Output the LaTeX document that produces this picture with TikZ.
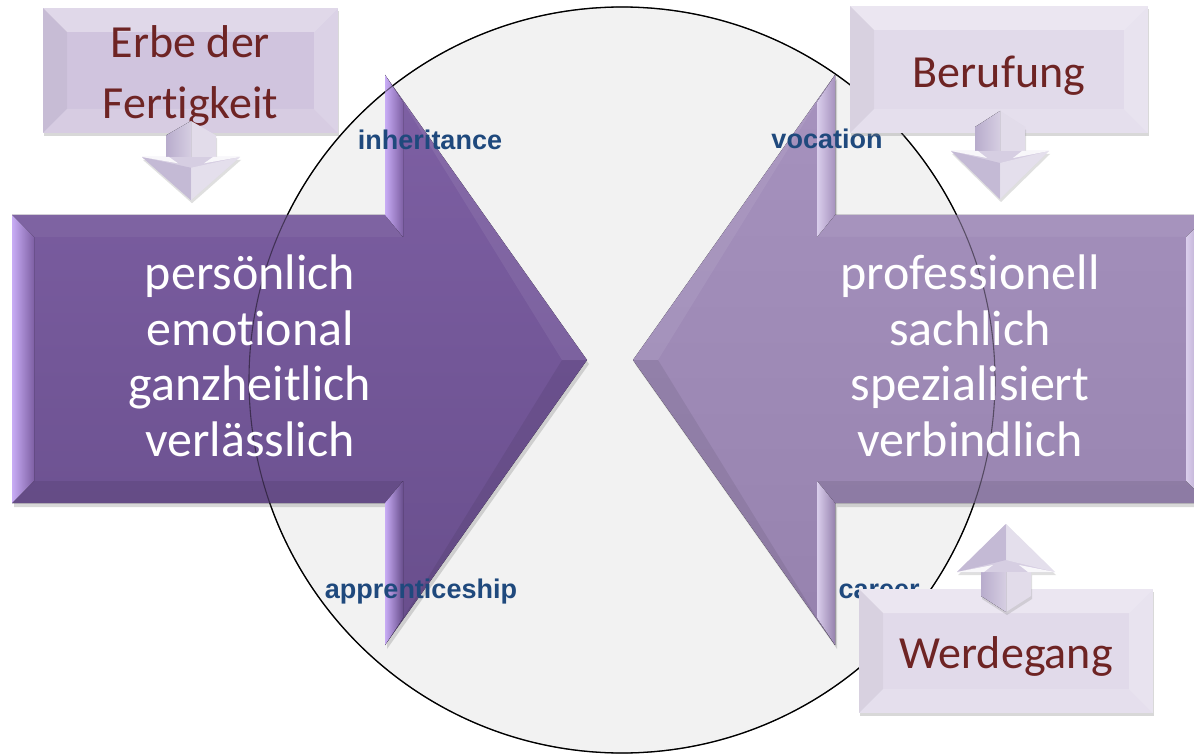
\documentclass[tikz,border=0pt]{standalone}
\usepackage{fontspec}
\setmainfont{Carlito}[Ligatures={NoCommon}]
\newfontfamily\labelfont{Liberation Sans}
\usetikzlibrary{positioning}
\usetikzlibrary{shadows}
\definecolor{disc}{RGB}{242,242,242}
\definecolor{leftarrow}{RGB}{126,96,164}
\definecolor{leftarrowdark}{RGB}{104,78,140}
\definecolor{lefthigh}{RGB}{200,172,245}
\definecolor{rightarrow}{RGB}{166,146,190}
\definecolor{rightarrowdark}{RGB}{150,130,174}
\definecolor{righthigh}{RGB}{218,206,236}
\definecolor{boxtext}{RGB}{110,36,36}
\definecolor{labelblue}{RGB}{31,73,125}
\definecolor{erbefill}{RGB}{208,196,222}
\definecolor{berufill}{RGB}{225,218,234}
\definecolor{tabfill}{RGB}{214,206,226}
\definecolor{tabdark}{RGB}{184,172,204}
\def\ppb{path picture bounding box}
% bevel facets of a word box
\newcommand{\facets}[1]{%
  \fill[white,opacity=.35] (\ppb.north west) -- (\ppb.north east)
    -- ([xshift=-#1pt,yshift=-#1pt]\ppb.north east) -- ([xshift=#1pt,yshift=-#1pt]\ppb.north west) -- cycle;
  \fill[black,opacity=.04] (\ppb.north west) -- ([xshift=#1pt,yshift=-#1pt]\ppb.north west)
    -- ([xshift=#1pt,yshift=#1pt]\ppb.south west) -- (\ppb.south west) -- cycle;
  \fill[white,opacity=.15] (\ppb.south west) -- ([xshift=#1pt,yshift=#1pt]\ppb.south west)
    -- ([xshift=-#1pt,yshift=#1pt]\ppb.south east) -- (\ppb.south east) -- cycle;
  \fill[white,opacity=.25] (\ppb.north east) -- ([xshift=-#1pt,yshift=-#1pt]\ppb.north east)
    -- ([xshift=-#1pt,yshift=#1pt]\ppb.south east) -- (\ppb.south east) -- cycle;}
% big chevron arrow, pointing right
\newcommand{\chevronarrow}[3]{%
  \fill[arrow shadow, top color=#1, bottom color=#2]
    (12,215) -- (385,215) -- (385,75) -- (587,360) -- (385,645) -- (385,503) -- (12,503) -- cycle;
  \fill[left color=#3, right color=#1] (12,215) -- (34,237) -- (34,481) -- (12,503) -- cycle;
  \fill[white,opacity=.05] (12,215) -- (385,215) -- (403,237) -- (34,237) -- cycle;
  \fill[black,opacity=.08] (12,503) -- (34,481) -- (403,481) -- (385,503) -- cycle;
  \fill[left color=#3, right color=#1] (385,75) -- (403,102) -- (403,237) -- (385,215) -- cycle;
  \fill[left color=#3, right color=#2] (385,645) -- (385,503) -- (403,481) -- (403,618) -- cycle;
  \fill[white,opacity=.07] (385,75) -- (587,360) -- (562,360) -- (403,102) -- cycle;
  \fill[black,opacity=.07] (403,618) -- (562,360) -- (587,360) -- (385,645) -- cycle;}
% small tab arrow, pointing down
\newcommand{\tabarrow}{%
  \fill[tab shadow, tabfill] (-25,16) -- (0,0) -- (25,16) -- (25,40) -- (49,40) -- (0,88) -- (-49,40) -- (-25,40) -- cycle;
  \fill[left color=tabdark, right color=tabfill] (-25,16) -- (0,0) -- (0,40) -- (-25,40) -- cycle;
  \fill[white,opacity=.3] (0,0) -- (25,16) -- (25,40) -- (0,40) -- cycle;
  \fill[tabdark!60!tabfill] (-49,40) -- (0,52) -- (0,88) -- cycle;
  \fill[white,opacity=.35] (49,40) -- (0,52) -- (0,88) -- cycle;
  \fill[white,opacity=.85] (-49,40) -- (-22,40) -- (-13,47) -- cycle;
  \fill[white,opacity=.85] (49,40) -- (22,40) -- (13,47) -- cycle;}
\tikzset{word box/.style={shape=rectangle, align=center,
    text=boxtext, font=\fontsize{46}{60}\selectfont,
    inner sep=0pt, path picture={\facets{24}},
    execute at begin node={\rule{0pt}{#1}},
    execute at end node={\rule[-12pt]{0pt}{0pt}},
    drop shadow={shadow xshift=1pt,shadow yshift=-3pt,opacity=.3}},
  word box/.default=47pt,
  big words/.style={align=center, text=white, font=\fontsize{50}{55.5}\selectfont},
  small label/.style={font=\labelfont\bfseries\fontsize{27}{30}\selectfont,
    text=labelblue, anchor=base},
  arrow shadow/.style={drop shadow={shadow xshift=2pt,shadow yshift=-4pt,opacity=.3}},
  tab shadow/.style={drop shadow={shadow xshift=1pt,shadow yshift=-3pt,opacity=.25}}}

\begin{document}
\begin{tikzpicture}[x=1pt,y=-1pt]
    \useasboundingbox (0,0) rectangle (1194,754);
    \fill[white] (0,0) rectangle (1194,754);
    \node[circle, minimum size=746pt, inner sep=0pt, fill=disc, draw=black, line width=1.3pt] (disc) at (622,380) {};

    % the two big arrows
    \chevronarrow{leftarrow}{leftarrowdark}{lefthigh}
    \begin{scope}[xshift=1220pt, xscale=-1]
        \chevronarrow{rightarrow}{rightarrowdark}{righthigh}
    \end{scope}
    \draw[black, opacity=.45, line width=1.1pt] (disc.center) circle [radius=373pt];

    \node[big words] (personal) at (250,356) {persönlich\\emotional\\ganzheitlich\\verlässlich};
    \node[big words] (professional) at (970,356) {professionell\\sachlich\\spezialisiert\\verbindlich};

    \node[small label] (inheritance) at (430,150) {inheritance};
    \node[small label] (vocation) at (827,149) {vocation};
    \node[small label] (apprenticeship) at (421,598) {apprenticeship};
    \node[small label, anchor=base west] (career) at (835,598) {career};

    % word boxes with their tab arrows
    \node[word box=0pt, fill=erbefill, minimum width=295pt, minimum height=125pt] (erbe) at (190.5,70.5) {\rule{0pt}{47pt}Erbe der\\[1pt]Fertigkeit\rule[-12pt]{0pt}{0pt}};
    \node[word box=48pt, fill=berufill, minimum width=298pt, minimum height=127pt] (berufung) at (999,69.5) {Berufung};
    \node[word box, fill=berufill, minimum width=294pt, minimum height=124pt] (werdegang) at (1006,651) {Werdegang};

    \begin{scope}[shift={(191,121)}, yscale=.9]
        \tabarrow
    \end{scope}
    \begin{scope}[shift={(1000,111)}]
        \tabarrow
    \end{scope}
    \begin{scope}[shift={(1006,612)}, yscale=-1]
        \tabarrow
    \end{scope}
\end{tikzpicture}
\end{document}
